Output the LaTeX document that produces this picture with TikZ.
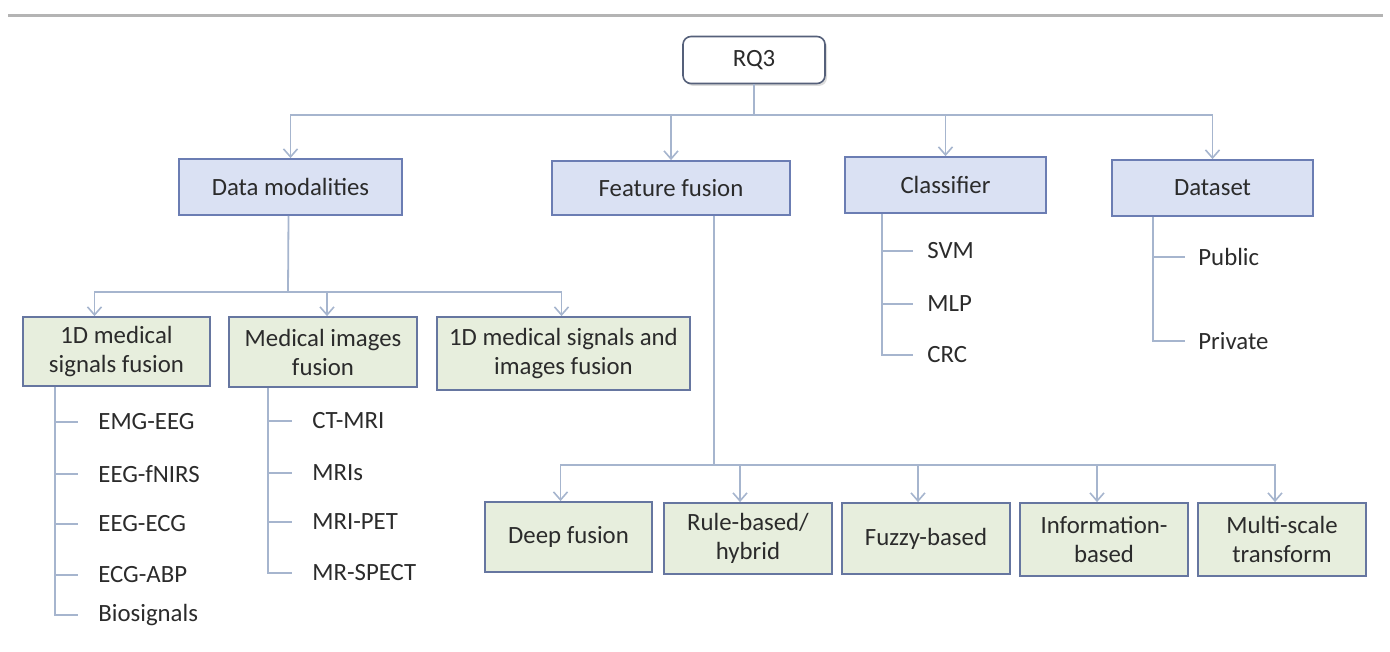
\documentclass[tikz,border=0pt]{standalone}
\usepackage{fontspec}
\setmainfont{Carlito}
\usetikzlibrary{arrows.meta,shadows}
\definecolor{rulegray}{HTML}{B4B4B4}
\definecolor{bluefill}{HTML}{DAE1F3}
\definecolor{blueedge}{HTML}{6B7DB3}
\definecolor{greenfill}{HTML}{E7EEDD}
\definecolor{greenedge}{HTML}{6676A0}
\definecolor{linec}{HTML}{A6B5CE}
\definecolor{txt}{HTML}{2B2B2B}
\definecolor{rqedge}{HTML}{55607A}
\begin{document}
\begin{tikzpicture}[x=0.5pt,y=-0.5pt,
  every node/.style={text=txt,font=\fontsize{12.4}{14.5}\selectfont},
  bluebox/.style={draw=blueedge,fill=bluefill,line width=0.9pt,inner sep=0pt,align=center},
  greenbox/.style={draw=greenedge,fill=greenfill,line width=0.9pt,inner sep=0pt,align=center},
  leaf/.style={anchor=west,inner sep=0pt},
  conn/.style={draw=linec,line width=0.9pt},
  arr/.style={conn,-{Straight Barb[length=4pt,width=7pt,line width=0.8pt]}}
]
\useasboundingbox (0,0) rectangle (1390,652);
\draw[rulegray,line width=1.5pt] (8,16) -- (1383,16);

% root
\node[draw=rqedge,fill=white,rounded corners=4pt,line width=0.8pt,
      drop shadow={shadow xshift=1pt,shadow yshift=-1.2pt,fill=gray!55},
      minimum width=71pt,minimum height=23.5pt] (rq) at (754,60) {RQ3};

% level 1
\node[bluebox,minimum width=111.5pt,minimum height=28pt] (dm) at (290.5,187) {Data modalities};
\node[bluebox,minimum width=119pt,minimum height=27pt] (ff) at (671,188) {Feature fusion};
\node[bluebox,minimum width=100.5pt,minimum height=28pt] (cl) at (945.5,185) {Classifier};
\node[bluebox,minimum width=100.5pt,minimum height=28pt] (ds) at (1212.5,188) {Dataset};

\coordinate (b1) at (754,115);
\draw[conn] (rq.south) -- (b1);
\draw[arr] (b1) -| (dm.north);
\draw[arr] (b1) -| (ff.north);
\draw[arr] (b1) -| (cl.north);
\draw[arr] (b1) -| (ds.north);

% data modalities children
\node[greenbox,minimum width=93.5pt,minimum height=34.5pt] (s1) at (116.5,351.5) {1D medical\\signals fusion};
\node[greenbox,minimum width=94pt,minimum height=35pt] (mi) at (323,352) {Medical images\\fusion};
\node[greenbox,minimum width=126.5pt,minimum height=36.5pt] (si) at (563.5,353.5) {1D medical signals and\\images fusion};

\coordinate (b2) at (288,292);
\draw[conn] ([xshift=-1pt]dm.south) -- (b2);
\draw[arr] (b2) -| ([xshift=-11pt]s1.north);
\draw[arr] (b2) -| ([xshift=2pt]mi.north);
\draw[arr] (b2) -| ([xshift=-1pt]si.north);

% 1D signals leaves
\node[leaf] (l1) at (98,422) {EMG-EEG};
\node[leaf] (l2) at (98,474) {EEG-fNIRS};
\node[leaf] (l3) at (98,524) {EEG-ECG};
\node[leaf] (l4) at (98,575) {ECG-ABP};
\node[leaf] (l5) at (98,615) {Biosignals};
\coordinate (v1) at (55,0);
\draw[conn] (s1.south -| v1) -- (l5.west -| v1) -- ([xshift=-10pt]l5.west);
\foreach \n in {l1,l2,l3,l4} \draw[conn] (\n.west -| v1) -- ([xshift=-10pt]\n.west);

% medical images leaves
\node[leaf] (m1) at (312,421) {CT-MRI};
\node[leaf] (m2) at (312,473) {MRIs};
\node[leaf] (m3) at (312,522) {MRI-PET};
\node[leaf] (m4) at (312,573) {MR-SPECT};
\coordinate (v2) at (268,0);
\draw[conn] (mi.south -| v2) -- (m4.west -| v2) -- ([xshift=-10pt]m4.west);
\foreach \n in {m1,m2,m3} \draw[conn] (\n.west -| v2) -- ([xshift=-10pt]\n.west);

% classifier leaves
\node[leaf] (c1) at (927,251) {SVM};
\node[leaf] (c2) at (927,304) {MLP};
\node[leaf] (c3) at (927,355) {CRC};
\coordinate (v3) at (882,0);
\draw[conn] (cl.south -| v3) -- (c3.west -| v3) -- ([xshift=-7pt]c3.west);
\foreach \n in {c1,c2} \draw[conn] (\n.west -| v3) -- ([xshift=-7pt]\n.west);

% dataset leaves
\node[leaf] (d1) at (1198,257) {Public};
\node[leaf] (d2) at (1198,341) {Private};
\coordinate (v4) at (1153,0);
\draw[conn] (ds.south -| v4) -- (d2.west -| v4) -- ([xshift=-6.5pt]d2.west);
\draw[conn] (d1.west -| v4) -- ([xshift=-6.5pt]d1.west);

% feature fusion children
\node[greenbox,minimum width=83.5pt,minimum height=35pt] (df) at (568.5,537) {Deep fusion};
\node[greenbox,minimum width=84pt,minimum height=35.5pt] (rb) at (748,538.5) {Rule-based/\\hybrid};
\node[greenbox,minimum width=84pt,minimum height=35.5pt] (fz) at (926,538.5) {Fuzzy-based};
\node[greenbox,minimum width=84pt,minimum height=36.5pt] (ib) at (1104,539.5) {Information-\\based};
\node[greenbox,minimum width=84pt,minimum height=36.5pt] (ms) at (1282,539.5) {Multi-scale\\transform};

\coordinate (b3) at (714,465);
\draw[conn] ([xshift=21.5pt]ff.south) -- (b3);
\draw[arr] (b3) -| ([xshift=-4pt]df.north);
\draw[arr] (b3) -| ([xshift=-4pt]rb.north);
\draw[arr] (b3) -| ([xshift=-4pt]fz.north);
\draw[arr] (b3) -| ([xshift=-3.5pt]ib.north);
\draw[arr] (b3) -| ([xshift=-3.5pt]ms.north);
\end{tikzpicture}
\end{document}
